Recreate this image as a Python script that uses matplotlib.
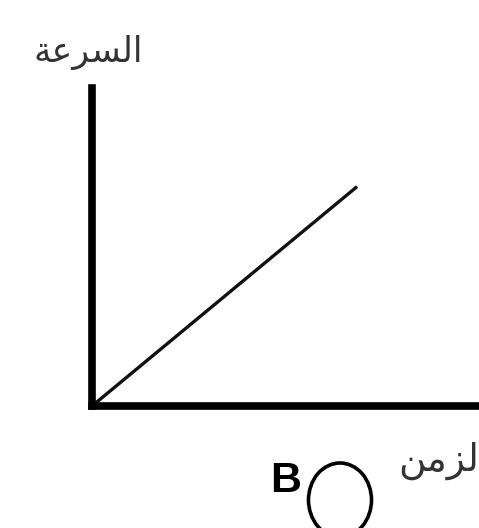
import matplotlib.pyplot as plt
from matplotlib.patches import Ellipse

# straight line: speed grows with time from the origin
time = [0, 6.85]
speed = [0, 6.9]

# Arabic labels written in shaped presentation forms, visual order
label_speed = "\uFE94\uFECB\uFEAE\uFEB4\uFEDF\uFE8D"   # السرعة
label_time = "\uFEE6\uFEE3\uFEB0\uFEDF"                # لزمن (cut at edge)
option = "B"

W, H = 479, 528
fig = plt.figure(figsize=(W / 100, H / 100), dpi=100)
ax = fig.add_axes([92 / W, (H - 406) / H, (W - 92) / W, (406 - 88) / H])

ax.plot(time, speed, color="#111111", lw=2.4, solid_capstyle="butt")
ax.set_xlim(0, 10)
ax.set_ylim(0, 10)
ax.set_xticks([])
ax.set_yticks([])
for s in ["top", "right"]:
    ax.spines[s].set_visible(False)
for s in ["left", "bottom"]:
    ax.spines[s].set_linewidth(5.5)
    ax.spines[s].set_color("black")
    ax.spines[s].set_capstyle("projecting")

fig.text(88 / W, 1 - 52 / H, label_speed, ha="center", va="center",
         fontsize=25, family="DejaVu Sans", color="#333333")
fig.text(1.0, 1 - 461 / H, label_time, ha="right", va="center",
         fontsize=27, family="DejaVu Sans", color="#333333")
fig.text(286 / W, 1 - 481 / H, option, ha="center", va="center",
         fontsize=31, fontweight="bold", family="Liberation Sans")

fig.add_artist(Ellipse((340 / W, 1 - 500 / H), 63 / W, 74 / H,
                       transform=fig.transFigure, fill=False,
                       lw=2.6, color="black"))

fig.savefig("out.png", dpi=100)
